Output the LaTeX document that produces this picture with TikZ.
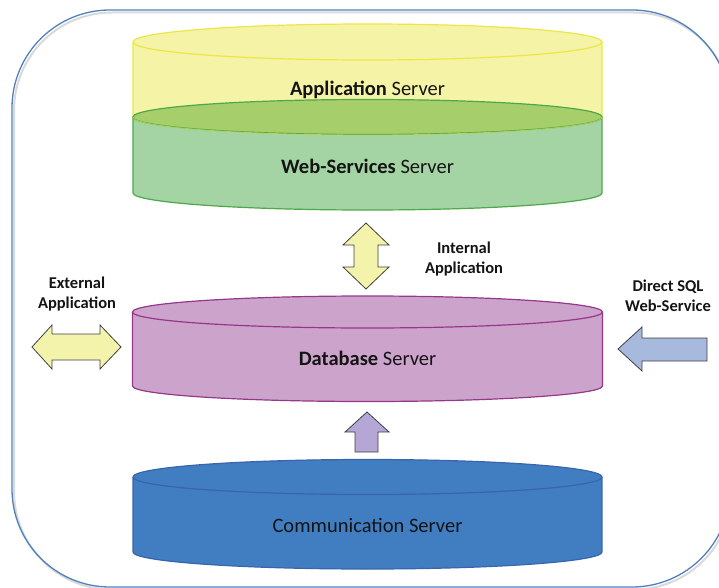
\documentclass[tikz,border=0pt]{standalone}
\usepackage{fontspec}
\setmainfont{Carlito}
\definecolor{frameblue}{RGB}{79,129,189}
\definecolor{yfill}{RGB}{245,243,166}
\definecolor{yline}{RGB}{236,230,70}
\definecolor{gfill}{RGB}{164,211,164}
\definecolor{gtop}{RGB}{166,207,108}
\definecolor{gline}{RGB}{76,168,72}
\definecolor{pfill}{RGB}{204,163,203}
\definecolor{pline}{RGB}{150,55,140}
\definecolor{bfill}{RGB}{64,126,193}
\definecolor{bline}{RGB}{58,100,172}
\definecolor{arrY}{RGB}{243,243,172}
\definecolor{arrP}{RGB}{180,167,214}
\definecolor{arrB}{RGB}{168,185,222}
\definecolor{txt}{RGB}{20,20,20}
\tikzset{
  frame/.style={draw=frameblue, line width=1.3pt},
  blockarrow/.style={draw=black!75, line width=0.8pt, line join=miter},
  bigtext/.style={text=txt, font=\fontsize{20.5}{24}\selectfont},
  smalltext/.style={text=txt, font=\fontsize{16.5}{20}\selectfont\bfseries, align=center},
}
\begin{document}
\begin{tikzpicture}[x=1pt,y=-1pt]
\useasboundingbox (0,0) rectangle (719,588);
\clip (0,0) rectangle (719,588);
% outer frame with faint shadow
\draw[black!15, line width=2pt, rounded corners=98pt] (14,12.5) rectangle (732,589.5);
\draw[frame, rounded corners=98pt] (12,10) rectangle (730,587);

% Application server (yellow)
\fill[yfill] (367.5,117) ellipse [x radius=234.5, y radius=18];
\fill[yfill] (133,42) rectangle (602,117);
\draw[yline, line width=1.2pt] (133,42) -- (133,117) arc[start angle=180, end angle=0, x radius=234.5, y radius=18] -- (602,42);
\filldraw[fill=yfill, draw=yline, line width=1.2pt] (367.5,42) ellipse [x radius=234.5, y radius=18];

% Web-services server (green)
\fill[gfill] (367.5,193) ellipse [x radius=234.5, y radius=17];
\fill[gfill] (133,117) rectangle (602,193);
\draw[gline, line width=1.2pt] (133,117) -- (133,193) arc[start angle=180, end angle=0, x radius=234.5, y radius=17] -- (602,117);
\filldraw[fill=gtop, draw=gline, line width=1.2pt] (367.5,117) ellipse [x radius=234.5, y radius=17.5];
\draw[yline, opacity=0.6, line width=0.8pt] (133,117) arc[start angle=180, end angle=0, x radius=234.5, y radius=18];

% Database server (purple)
\fill[pfill] (367.5,386) ellipse [x radius=235, y radius=15.5];
\fill[pfill] (132.5,312) rectangle (602.5,386);
\draw[pline, line width=1.2pt] (132.5,312) -- (132.5,386) arc[start angle=180, end angle=0, x radius=235, y radius=15.5] -- (602.5,312);
\filldraw[fill=pfill, draw=pline, line width=1.2pt] (367.5,312) ellipse [x radius=235, y radius=16];

% Communication server (blue)
\fill[bfill] (367.5,552) ellipse [x radius=234.5, y radius=17];
\fill[bfill] (133,477) rectangle (602,552);
\draw[bline, line width=1.2pt] (133,477) -- (133,552) arc[start angle=180, end angle=0, x radius=234.5, y radius=17] -- (602,477);
\filldraw[fill=bfill, draw=bline, line width=1.2pt] (367.5,477) ellipse [x radius=234.5, y radius=17.5];

% block arrows
\filldraw[blockarrow, fill=arrY] (366,223) -- (389,245) -- (378,245) -- (378,267) -- (389,267) -- (366,289) -- (343,267) -- (354,267) -- (354,245) -- (343,245) -- cycle;
\filldraw[blockarrow, fill=arrY] (32,347) -- (52,325) -- (52,334) -- (100,334) -- (100,325) -- (121,347) -- (100,369) -- (100,360) -- (52,360) -- (52,369) -- cycle;
\filldraw[blockarrow, fill=arrB] (618,349) -- (642,327) -- (642,338) -- (707,338) -- (707,361) -- (642,361) -- (642,371) -- cycle;
\filldraw[blockarrow, fill=arrP] (367,412) -- (389,432) -- (378,432) -- (378,452) -- (355,452) -- (355,432) -- (345,432) -- cycle;

% texts
\node[bigtext] (app) at (367.5,90) {\textbf{Application} Server};
\node[bigtext] (web) at (367.5,166) {\textbf{Web-Services} Server};
\node[bigtext] (db) at (367.5,358) {\textbf{Database} Server};
\node[bigtext] (comm) at (367.5,525) {Communication Server};
\node[smalltext] (internal) at (464,259) {Internal\\Application};
\node[smalltext] (external) at (77,294) {External\\Application};
\node[smalltext] (direct) at (668,296) {Direct SQL\\Web-Service};
\end{tikzpicture}
\end{document}
